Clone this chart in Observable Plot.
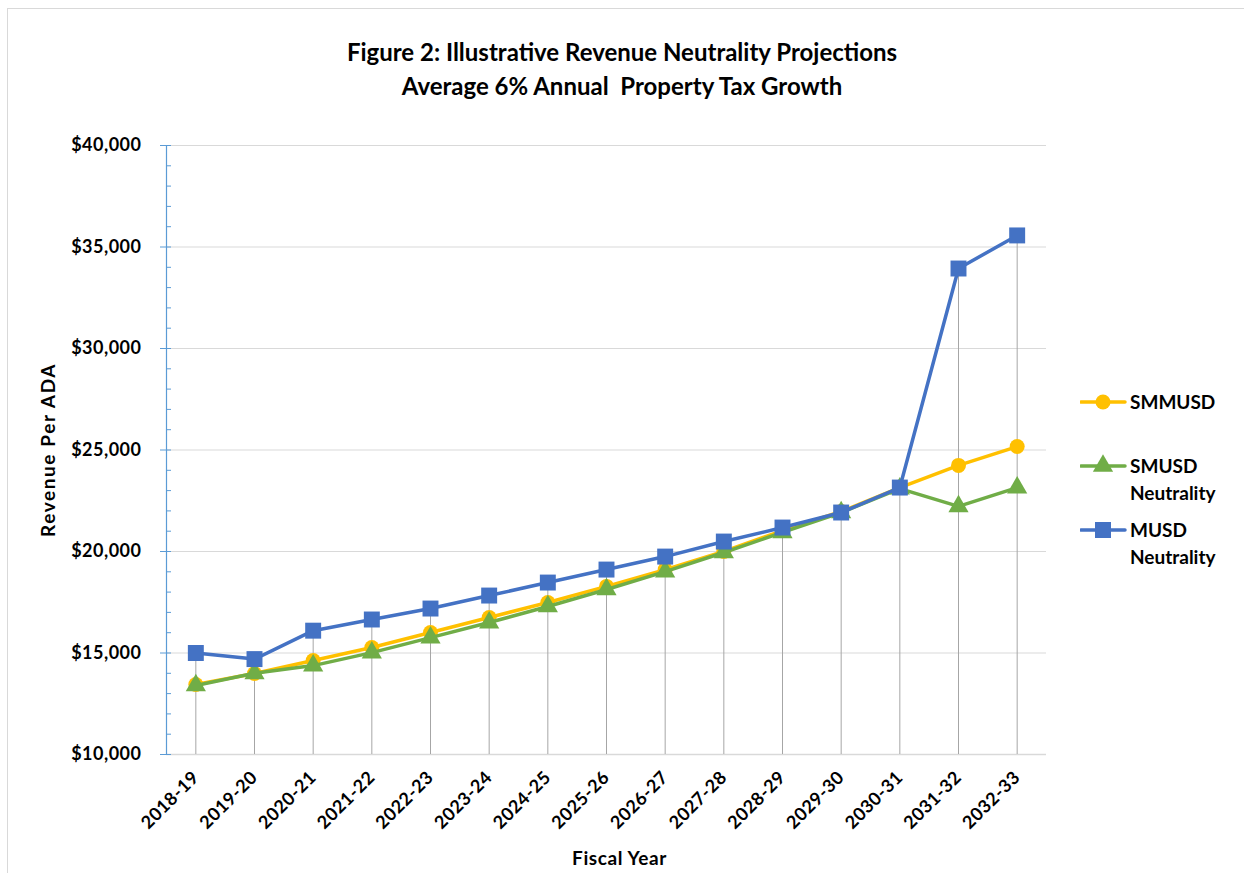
<!DOCTYPE html>
<html>
<head>
<meta charset="utf-8">
<script src="https://cdn.jsdelivr.net/npm/d3@7"></script>
<script src="https://cdn.jsdelivr.net/npm/@observablehq/plot@0.6"></script>
<style>
  html, body { margin: 0; padding: 0; background: #fff; }
  body { width: 1244px; height: 873px; position: relative; overflow: hidden; font-family: Lato, "Open Sans", sans-serif; }
  #frame { position: absolute; left: 7px; top: 8px; width: 1300px; height: 1000px; border: 1.5px solid #d9d9d9; box-sizing: border-box; }
  #chart { position: absolute; left: 0; top: 0; }
  #title { position: absolute; left: 0; width: 1244px; top: 35px; text-align: center; font-weight: bold; font-size: 24px; line-height: 34px; color: #000; }
  #legend { position: absolute; left: 1080px; top: 0; font-weight: bold; font-size: 19px; color: #000; }
  .item { position: absolute; left: 0; width: 164px; }
  .item svg { position: absolute; left: 0; top: 0; }
  .item span { position: absolute; left: 50px; top: 0; line-height: 27px; white-space: nowrap; }
</style>
</head>
<body>
<div id="frame"></div>
<div id="chart"></div>
<div id="title">Figure 2: Illustrative Revenue Neutrality Projections<br>Average 6% Annual&nbsp; Property Tax Growth</div>
<div id="legend"></div>
<script>
const years = ["2018-19","2019-20","2020-21","2021-22","2022-23","2023-24","2024-25","2025-26","2026-27","2027-28","2028-29","2029-30","2030-31","2031-32","2032-33"];
const smmusd = [13450, 13990, 14630, 15270, 16010, 16750, 17490, 18280, 19110, 20000, 21030, 21970, 23150, 24240, 25170];
const smusdNeutrality = [13400, 14000, 14380, 15020, 15760, 16500, 17290, 18130, 19010, 19950, 20940, 21920, 23100, 22220, 23150];
const musdNeutrality = [15000, 14700, 16100, 16650, 17190, 17830, 18470, 19110, 19750, 20490, 21180, 21920, 23150, 33940, 35570];
const seriesNames = ["SMMUSD", "SMUSD Neutrality", "MUSD Neutrality"];
const seriesColors = ["#ffc000", "#70ad47", "#4472c4"];
const seriesSymbols = ["circle", "triangle", "square"];
const yTicks = [10000, 15000, 20000, 25000, 30000, 35000, 40000];
const yMinorTicks = d3.range(10000, 40001, 1000);

const allSeries = [smmusd, smusdNeutrality, musdNeutrality];
const rows = [];
allSeries.forEach((vals, si) => vals.forEach((v, i) => rows.push({year: years[i], value: v, series: seriesNames[si]})));
const drops = years.map((y, i) => ({year: y, top: Math.max(smmusd[i], smusdNeutrality[i], musdNeutrality[i])}));

const axisBlue = "#5b9bd5";
const marks = [
  Plot.ruleY(yTicks.slice(1), {stroke: "#d9d9d9", strokeWidth: 1}),
  Plot.ruleY([10000], {stroke: "#d9d9d9", strokeWidth: 1.5}),
  Plot.ruleX(drops, {x: "year", y1: 10000, y2: "top", stroke: "#a6a6a6", strokeWidth: 1}),
  Plot.axisY({ticks: yMinorTicks, tickSize: -5, stroke: axisBlue, strokeWidth: 1, label: null, text: null}),
  Plot.axisY({ticks: yTicks, tickSize: 6, stroke: axisBlue, strokeWidth: 1, label: null, text: null}),
  Plot.axisY({ticks: yTicks, tickSize: 0, tickPadding: 25, tickFormat: d => "$" + d3.format(",")(d),
    fontSize: 18, fontWeight: "bold", fill: "#000", label: "Revenue Per ADA", labelAnchor: "center", labelArrow: "none", labelOffset: 125}),
  Plot.frame({anchor: "left", stroke: axisBlue, strokeWidth: 1.2}),
  Plot.axisX({tickSize: 0, tickPadding: 20, tickRotate: -45, fontSize: 18, fontWeight: "bold", fill: "#000",
    label: "Fiscal Year", labelAnchor: "center", labelArrow: "none", labelOffset: 110})
];
allSeries.forEach((vals, si) => {
  const data = rows.filter(d => d.series === seriesNames[si]);
  marks.push(Plot.line(data, {x: "year", y: "value", stroke: seriesColors[si], strokeWidth: 3.5}));
  marks.push(Plot.dot(data, {x: "year", y: "value", fill: seriesColors[si], stroke: "none", symbol: seriesSymbols[si], r: si === 2 ? 9 : 7.5}));
});

const chart = Plot.plot({
  width: 1244,
  height: 873,
  marginLeft: 166,
  marginRight: 198,
  marginTop: 145,
  marginBottom: 119,
  style: {fontFamily: "Lato, 'Open Sans', sans-serif", background: "transparent", color: "#000"},
  x: {type: "point", domain: years, padding: 0.5, round: false},
  y: {domain: [10000, 40000]},
  marks
});
chart.querySelectorAll("g[aria-label='y-axis tick label'] text, g[aria-label='x-axis tick label'] text").forEach(t => {
  t.style.letterSpacing = "0.5px";
});
chart.querySelectorAll("g[aria-label='y-axis label'] text").forEach(t => {
  t.style.fontSize = "19px"; t.style.fontWeight = "bold"; t.style.letterSpacing = "1.6px";
});
chart.querySelectorAll("g[aria-label='x-axis label']").forEach(g => {
  g.setAttribute("transform", (g.getAttribute("transform") || "") + " translate(13,0)");
  g.querySelectorAll("text").forEach(t => { t.style.fontSize = "19px"; t.style.fontWeight = "bold"; t.style.letterSpacing = "0.6px"; });
});
document.getElementById("chart").appendChild(chart);

// legend
const legendTops = [388, 452, 516];
const legendLabels = [["SMMUSD"], ["SMUSD", "Neutrality"], ["MUSD", "Neutrality"]];
const legend = document.getElementById("legend");
seriesNames.forEach((name, si) => {
  const item = document.createElement("div");
  item.className = "item";
  item.style.top = legendTops[si] + "px";
  const sym = si === 0 ? `<circle cx="23" cy="14" r="7.5" fill="${seriesColors[si]}"/>`
    : si === 1 ? `<path d="${d3.symbol(d3.symbolTriangle, Math.PI * 7.5 * 7.5)()}" transform="translate(23,14)" fill="${seriesColors[si]}"/>`
    : `<rect x="15" y="6" width="16" height="16" fill="${seriesColors[si]}"/>`;
  item.innerHTML = `<svg width="48" height="28"><line x1="1" x2="45" y1="14" y2="14" stroke="${seriesColors[si]}" stroke-width="3.5" stroke-linecap="round"/>${sym}</svg>` +
    `<span>${legendLabels[si].join("<br>")}</span>`;
  legend.appendChild(item);
});
</script>
</body>
</html>
